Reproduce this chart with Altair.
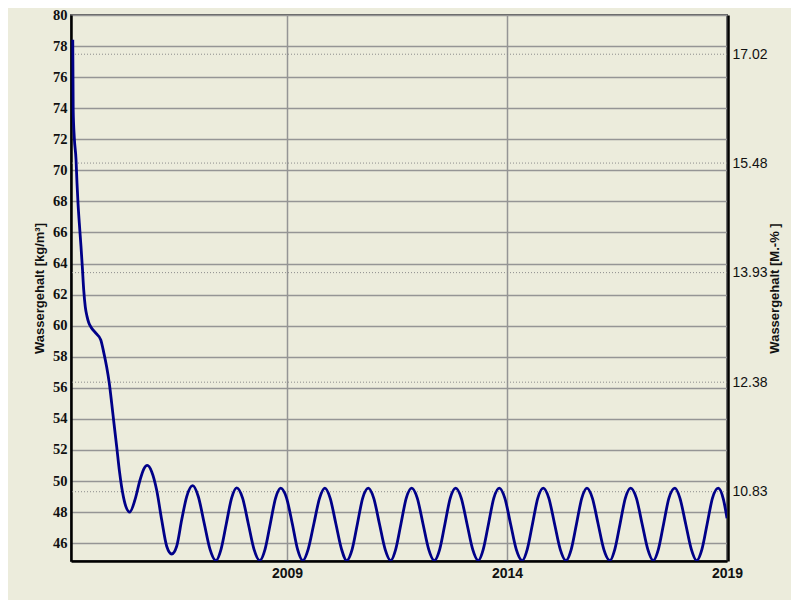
import altair as alt
import pandas as pd

# ---- data ----
years = [
    2004.13, 2004.14, 2004.165, 2004.204, 2004.226, 2004.249, 2004.279, 2004.317,
    2004.347, 2004.379, 2004.415, 2004.454, 2004.492, 2004.545, 2004.66, 2004.765,
    2004.84, 2004.90, 2004.96, 2005.015, 2005.067, 2005.129, 2005.188, 2005.242,
    2005.317, 2005.424, 2005.545, 2005.658, 2005.749, 2005.824, 2005.924, 2006.038,
    2006.151, 2006.265, 2006.379, 2006.492, 2006.606, 2006.72, 2006.856, 2006.983,
    2007.12, 2007.25,
    2007.385, 2007.50, 2007.62, 2007.74, 2007.856, 2007.99, 2008.12, 2008.25,
    2008.38, 2008.50, 2008.62, 2008.74, 2008.856, 2008.99, 2009.12, 2009.24,
    2009.36, 2009.48, 2009.61, 2009.74, 2009.86, 2009.98, 2010.11, 2010.24,
    2010.356, 2010.48, 2010.60, 2010.72, 2010.847, 2010.97, 2011.10, 2011.23,
    2011.356, 2011.47, 2011.59, 2011.71, 2011.833, 2011.96, 2012.09, 2012.22,
    2012.347, 2012.47, 2012.59, 2012.71, 2012.833, 2012.96, 2013.09, 2013.22,
    2013.347, 2013.46, 2013.58, 2013.70, 2013.824, 2013.95, 2014.08, 2014.21,
    2014.347, 2014.46, 2014.58, 2014.70, 2014.824, 2014.95, 2015.08, 2015.21,
    2015.34, 2015.46, 2015.58, 2015.70, 2015.817, 2015.94, 2016.07, 2016.20,
    2016.34, 2016.45, 2016.57, 2016.69, 2016.81, 2016.94, 2017.07, 2017.20,
    2017.324, 2017.44, 2017.56, 2017.68, 2017.817, 2017.93, 2018.06, 2018.19,
    2018.31, 2018.43, 2018.55, 2018.67, 2018.80, 2018.92, 2019.0,
]
water_kg_m3 = [
    78.4, 73.9, 72.1, 70.7, 69.2, 67.9, 66.6, 65.1,
    63.8, 62.3, 61.2, 60.6, 60.2, 59.9, 59.5, 59.1,
    58.2, 57.35, 56.3, 55.0, 53.7, 52.2, 50.7, 49.6,
    48.55, 48.0, 48.8, 50.05, 50.8, 51.0, 50.6, 49.4,
    47.5, 45.8, 45.3, 45.8, 47.5, 49.0, 49.7, 49.0,
    47.25, 45.6,
    44.88, 45.6, 47.25, 48.9, 49.56, 48.9, 47.25, 45.6,
    44.88, 45.6, 47.25, 48.9, 49.54, 48.9, 47.25, 45.6,
    44.88, 45.6, 47.25, 48.9, 49.54, 48.9, 47.25, 45.6,
    44.88, 45.6, 47.25, 48.9, 49.54, 48.9, 47.25, 45.6,
    44.88, 45.6, 47.25, 48.9, 49.54, 48.9, 47.25, 45.6,
    44.88, 45.6, 47.25, 48.9, 49.54, 48.9, 47.25, 45.6,
    44.88, 45.6, 47.25, 48.9, 49.54, 48.9, 47.25, 45.6,
    44.88, 45.6, 47.25, 48.9, 49.54, 48.9, 47.25, 45.6,
    44.88, 45.6, 47.25, 48.9, 49.54, 48.9, 47.25, 45.6,
    44.88, 45.6, 47.25, 48.9, 49.54, 48.9, 47.25, 45.6,
    44.88, 45.6, 47.25, 48.9, 49.54, 48.9, 47.25, 45.6,
    44.88, 45.6, 47.25, 48.9, 49.54, 48.8, 47.6,
]

left_ticks = [46, 48, 50, 52, 54, 56, 58, 60, 62, 64, 66, 68, 70, 72, 74, 76, 78, 80]
right_ticks = [10.83, 12.38, 13.93, 15.48, 17.02]
x_ticks = [2009, 2014, 2019]

x_domain = [2004.09, 2019.0]
left_domain = [44.85, 80]
right_domain = [9.85, 17.575]

df = pd.DataFrame({"year": years, "w": water_kg_m3})
df_right = pd.DataFrame({"pct": right_ticks})

BG = "#ECECDC"
GRID = "#959595"

x_enc = alt.X(
    "year:Q",
    scale=alt.Scale(domain=x_domain, nice=False, zero=False),
    axis=alt.Axis(
        values=x_ticks, format="d", title=None, ticks=False, grid=True,
        gridColor=GRID, gridWidth=1.5, domainColor="black", domainWidth=2.5,
        labelFont="Liberation Sans", labelFontWeight="bold", labelFontSize=14,
        labelColor="#111111", labelPadding=5, labelFlush=False,
    ),
)

line = alt.Chart(df).mark_line(
    color="#000088", strokeWidth=2.8, interpolate="monotone", clip=True
).encode(
    x=x_enc,
    y=alt.Y(
        "w:Q",
        scale=alt.Scale(domain=left_domain, nice=False, zero=False),
        axis=alt.Axis(
            values=left_ticks, title="Wassergehalt [kg/m³]", ticks=False, grid=True,
            gridColor=GRID, gridWidth=1.5, domainColor="black", domainWidth=2.5,
            labelFont="Liberation Serif", labelFontWeight="bold", labelFontSize=14.5,
            labelColor="#111111", labelPadding=4,
            titleFont="Liberation Sans", titleFontSize=13, titleFontWeight="bold",
            titleColor="#111111", titleAngle=270, titleX=-32, titleY=273,
            titleAlign="center", titleBaseline="middle",
        ),
    ),
)

right = alt.Chart(df_right).mark_rule(
    color="#8C8C8C", strokeWidth=1, strokeDash=[1, 2]
).encode(
    y=alt.Y(
        "pct:Q",
        scale=alt.Scale(domain=right_domain, nice=False, zero=False),
        axis=alt.Axis(
            orient="right", values=right_ticks, format=".2f",
            title="Wassergehalt [M.-% ]", ticks=False, grid=False,
            domainColor="black", domainWidth=2.5, offset=1,
            labelFont="Liberation Sans", labelFontSize=14, labelColor="#111111",
            labelPadding=4,
            titleFont="Liberation Sans", titleFontSize=13, titleFontWeight="bold",
            titleColor="#111111", titleAngle=270, titleX=46, titleY=273,
            titleAlign="center", titleBaseline="middle",
        ),
    ),
)

chart = alt.layer(right, line).resolve_scale(y="independent").properties(
    width=656,
    height=546,
    autosize=alt.AutoSizeParams(type="none"),
    padding={"left": 63, "top": 7, "right": 64, "bottom": 39},
    background=BG,
).configure_view(stroke="#606060", strokeWidth=2, fill=BG)

chart.save("out.html", embed_options={"renderer": "svg", "actions": False})
